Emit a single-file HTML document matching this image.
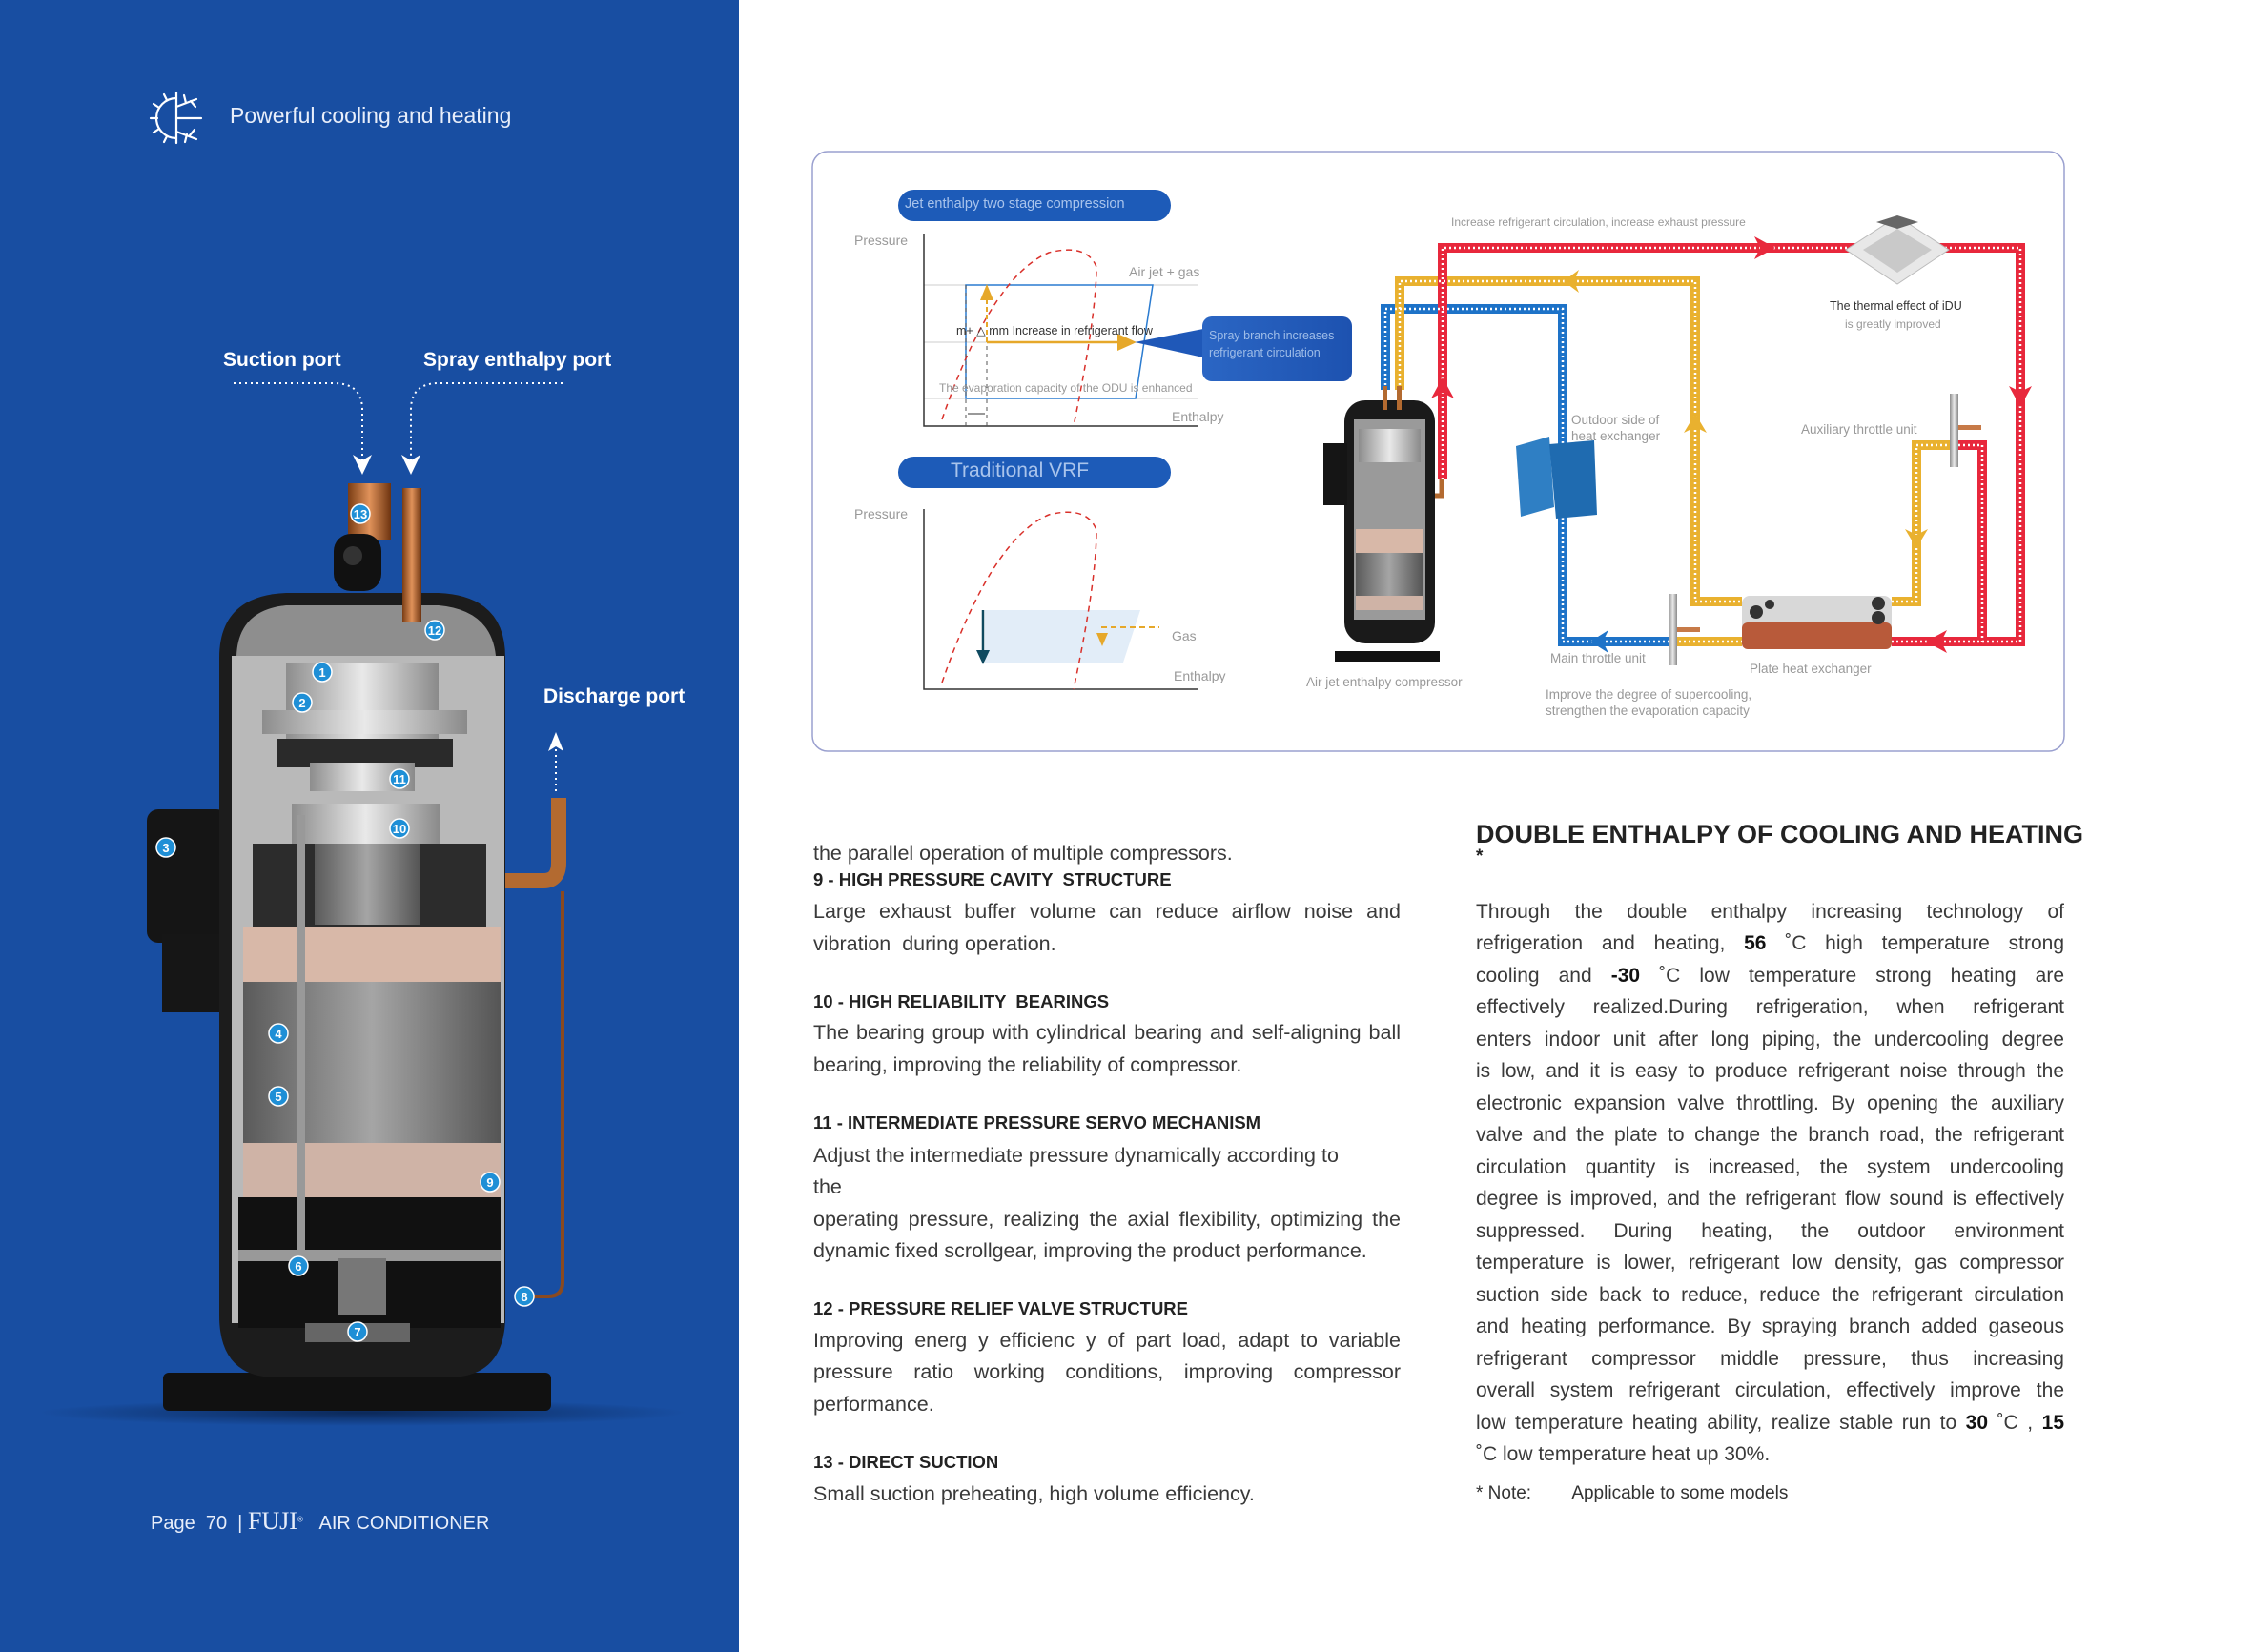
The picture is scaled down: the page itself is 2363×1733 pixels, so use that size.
<!DOCTYPE html>
<html><head><meta charset="utf-8">
<style>
html,body{margin:0;padding:0;}
body{width:2363px;height:1733px;position:relative;overflow:hidden;background:#fff;font-family:"Liberation Sans",sans-serif;}
.t{position:absolute;white-space:nowrap;}
.ln{position:absolute;left:853px;width:616px;height:34px;line-height:34px;font-size:21.5px;color:#3a3a3a;white-space:nowrap;text-align:justify;text-align-last:justify;}
.ln.l{text-align-last:left;}
.hd{position:absolute;left:853px;height:24px;line-height:24px;font-size:18.5px;font-weight:bold;color:#222;white-space:nowrap;}
.rn{position:absolute;left:1548px;width:617px;height:34px;line-height:34px;font-size:21px;color:#3a3a3a;white-space:nowrap;text-align:justify;text-align-last:justify;}
.rn.l{text-align-last:left;}
b{color:#111;}
.s{font-size:12px;color:#999;}
</style></head><body>

<svg width="2363" height="1733" style="position:absolute;left:0;top:0" xmlns="http://www.w3.org/2000/svg">
<defs>
<linearGradient id="cu" x1="0" x2="1"><stop offset="0" stop-color="#7a3d14"/><stop offset="0.5" stop-color="#e0925a"/><stop offset="1" stop-color="#6e3410"/></linearGradient>
<linearGradient id="sil" x1="0" x2="1"><stop offset="0" stop-color="#8d8d8d"/><stop offset="0.5" stop-color="#e9e9e9"/><stop offset="1" stop-color="#8a8a8a"/></linearGradient>
<linearGradient id="gr" x1="0" x2="1"><stop offset="0" stop-color="#5a5a5a"/><stop offset="0.5" stop-color="#a5a5a5"/><stop offset="1" stop-color="#555"/></linearGradient>
<radialGradient id="sh" cx="0.5" cy="0.5" r="0.5"><stop offset="0" stop-color="#0a2450" stop-opacity="0.9"/><stop offset="1" stop-color="#0a2450" stop-opacity="0"/></radialGradient>
<linearGradient id="call" x1="0" x2="1"><stop offset="0" stop-color="#2b66c4"/><stop offset="1" stop-color="#1d52b0"/></linearGradient>
</defs>
<rect x="0" y="0" width="775" height="1733" fill="#184ea2"/>
<g stroke="#fff" stroke-width="2.2" fill="none" stroke-linecap="round">
<path d="M185,103 A21,21 0 0 0 185,145"/>
<line x1="185" y1="97" x2="185" y2="150"/>
<line x1="185" y1="112" x2="206" y2="104"/><line x1="185" y1="138" x2="206" y2="146"/>
<line x1="185" y1="124" x2="211" y2="124"/>
<line x1="195" y1="108" x2="193" y2="100"/><line x1="200" y1="106" x2="205" y2="112"/>
<line x1="199" y1="142" x2="204" y2="136"/><line x1="196" y1="141" x2="194" y2="149"/>
<line x1="158" y1="124" x2="165" y2="124"/><line x1="161" y1="109" x2="167" y2="113"/><line x1="161" y1="139" x2="167" y2="135"/>
<line x1="172" y1="99" x2="175" y2="105"/><line x1="172" y1="149" x2="175" y2="143"/>
</g>
<g stroke="#fff" stroke-width="2" fill="none" stroke-dasharray="2 4">
<path d="M245,402 H350 Q380,402 380,430 V485"/>
<path d="M590,402 H460 Q431,402 431,430 V485"/>
<line x1="583" y1="830" x2="583" y2="785"/>
</g>
<g fill="#fff"><path d="M370,477 L380,498 L390,477 L380,483Z"/><path d="M421,477 L431,498 L441,477 L431,483Z"/><path d="M575,788 L583,768 L591,788 L583,783Z"/></g>
<ellipse cx="380" cy="1482" rx="340" ry="14" fill="url(#sh)"/>
<rect x="171" y="1440" width="407" height="40" rx="6" fill="#111"/>
<rect x="154" y="849" width="85" height="140" rx="12" fill="#151515"/>
<rect x="170" y="980" width="68" height="82" fill="#161616"/>
<path d="M230,690 Q230,625 300,622 L460,622 Q530,625 530,690 L530,1380 Q530,1445 470,1445 L290,1445 Q230,1445 230,1380Z" fill="#1c1c1c"/>
<path d="M248,688 Q250,640 300,635 L460,635 Q515,640 520,688 Z" fill="#8e8e8e"/>
<rect x="243" y="688" width="286" height="700" fill="#b9b9b9"/>
<rect x="300" y="695" width="160" height="90" fill="url(#sil)"/>
<rect x="275" y="745" width="215" height="25" fill="url(#sil)"/>
<rect x="290" y="775" width="185" height="30" fill="#2a2a2a"/>
<rect x="325" y="800" width="110" height="30" fill="url(#sil)"/>
<rect x="306" y="843" width="155" height="42" fill="url(#sil)"/>
<rect x="265" y="885" width="245" height="87" fill="#2c2c2c"/>
<rect x="330" y="885" width="110" height="85" fill="url(#gr)"/>
<rect x="255" y="972" width="270" height="58" fill="#d8b8a8"/>
<rect x="255" y="1030" width="270" height="169" fill="url(#gr)"/>
<rect x="255" y="1199" width="270" height="57" fill="#cfb3a6"/>
<rect x="250" y="1256" width="275" height="55" fill="#111"/>
<rect x="250" y="1311" width="275" height="12" fill="#999"/>
<rect x="250" y="1323" width="275" height="70" fill="#111"/>
<rect x="355" y="1320" width="50" height="60" fill="#777"/>
<rect x="320" y="1388" width="110" height="20" fill="#666"/>
<rect x="312" y="855" width="8" height="460" fill="#999"/>
<rect x="365" y="507" width="45" height="60" fill="url(#cu)"/>
<rect x="350" y="560" width="50" height="60" rx="18" fill="#111"/>
<circle cx="370" cy="583" r="10" fill="#333"/>
<rect x="422" y="512" width="20" height="140" fill="url(#cu)"/>
<path d="M530,924 H570 Q586,924 586,905 V837" stroke="#b36a30" stroke-width="16" fill="none"/>
<path d="M590,935 V1345 Q590,1360 575,1360 H545" stroke="#8a4a20" stroke-width="4" fill="none"/>
<g fill="#1f8fd6" stroke="#fff" stroke-width="1.5">
<circle cx="378" cy="539" r="10"/><circle cx="456" cy="661" r="10"/><circle cx="338" cy="705" r="10"/><circle cx="317" cy="737" r="10"/><circle cx="419" cy="817" r="10"/><circle cx="419" cy="869" r="10"/><circle cx="174" cy="889" r="10"/><circle cx="292" cy="1084" r="10"/><circle cx="292" cy="1150" r="10"/><circle cx="514" cy="1240" r="10"/><circle cx="313" cy="1328" r="10"/><circle cx="550" cy="1360" r="10"/><circle cx="375" cy="1397" r="10"/>
</g>
<g fill="#fff" font-family="Liberation Sans" font-size="13" font-weight="bold" text-anchor="middle">
<text x="378" y="544">13</text><text x="456" y="666">12</text><text x="338" y="710">1</text><text x="317" y="742">2</text><text x="419" y="822">11</text><text x="419" y="874">10</text><text x="174" y="894">3</text><text x="292" y="1089">4</text><text x="292" y="1155">5</text><text x="514" y="1245">9</text><text x="313" y="1333">6</text><text x="550" y="1365">8</text><text x="375" y="1402">7</text>
</g>

<rect x="852" y="159" width="1313" height="629" rx="16" fill="#fff" stroke="#9aa0cf" stroke-width="1.5"/>
<rect x="942" y="199" width="286" height="33" rx="16.5" fill="#1d5bb8"/>
<rect x="942" y="479" width="286" height="33" rx="16.5" fill="#1d5bb8"/>
<g stroke="#ccc" stroke-width="1"><line x1="969" y1="299" x2="1256" y2="299"/><line x1="969" y1="359" x2="1256" y2="359"/><line x1="969" y1="418" x2="1256" y2="418"/></g>
<path d="M969,245 V447 H1256" stroke="#333" stroke-width="1.5" fill="none"/>
<path d="M1013,299 H1209 L1191,418 H1013Z" fill="none" stroke="#2a7bd0" stroke-width="1.5"/>
<g stroke="#555" stroke-width="1" stroke-dasharray="4 4"><line x1="1013" y1="299" x2="1013" y2="447"/><line x1="1035" y1="299" x2="1035" y2="447"/></g>
<line x1="1015" y1="434" x2="1033" y2="434" stroke="#333"/>
<path d="M988,440 Q1040,290 1100,265 Q1140,255 1150,280 Q1150,330 1126,447" fill="none" stroke="#d9302a" stroke-width="1.5" stroke-dasharray="6 5"/>
<path d="M1035,359 H1180" stroke="#e6a82a" stroke-width="2.5"/>
<path d="M1035,359 V310" stroke="#e6a82a" stroke-width="2" stroke-dasharray="5 3"/>
<path d="M1172,350 L1192,359 L1172,368Z" fill="#e6a82a"/>
<path d="M1028,315 L1035,298 L1042,315Z" fill="#e6a82a"/>
<path d="M1190,359 L1262,345 L1262,375Z" fill="#1f58b8"/>
<rect x="1261" y="332" width="157" height="68" rx="10" fill="url(#call)"/>
<path d="M969,534 V723 H1256" stroke="#333" stroke-width="1.5" fill="none"/>
<path d="M1033,640 H1196 L1178,695 H1033Z" fill="#e2edf8"/>
<path d="M988,716 Q1040,565 1100,540 Q1140,530 1150,556 Q1150,610 1126,723" fill="none" stroke="#d9302a" stroke-width="1.5" stroke-dasharray="6 5"/>
<line x1="1031" y1="640" x2="1031" y2="685" stroke="#0f4a60" stroke-width="2.5"/>
<path d="M1024,682 L1031,697 L1038,682Z" fill="#0f4a60"/>
<line x1="1155" y1="658" x2="1216" y2="658" stroke="#e6a82a" stroke-width="2" stroke-dasharray="6 4"/>
<path d="M1150,664 L1156,678 L1162,664Z" fill="#e6a82a"/>

<g fill="none">
<path d="M1453,409 V324 H1639 V673 H1751" stroke="#1e73c8" stroke-width="10"/>
<path d="M1468,409 V295 H1778 V631 H1827 M1984,631 H2010 V467 H2049 M1751,673 H1827" stroke="#e9b12f" stroke-width="10"/>
<path d="M1513,503 V260 H2119 V673 H1984 M2049,467 H2079 V673" stroke="#e8283c" stroke-width="10"/>
<g stroke="#fff" stroke-width="2.5" stroke-dasharray="2 3">
<path d="M1453,409 V324 H1639 V673 H1751"/>
<path d="M1468,409 V295 H1778 V631 H1827 M1984,631 H2010 V467 H2049 M1751,673 H1827"/>
<path d="M1513,503 V260 H2119 V673 H1984 M2049,467 H2079 V673"/>
</g>
</g>
<path d="M1840,248 L1862,260 L1840,272 L1846,260Z" fill="#e8283c"/>
<path d="M2107,405 L2119,427 L2131,405 L2119,411Z" fill="#e8283c"/>
<path d="M2042,661 L2020,673 L2042,685 L2036,673Z" fill="#e8283c"/>
<path d="M1501,418 L1513,396 L1525,418 L1513,412Z" fill="#e8283c"/>
<path d="M1656,283 L1640,295 L1656,307 L1651,295Z" fill="#e9b12f"/>
<path d="M1766,454 L1778,434 L1790,454 L1778,448Z" fill="#e9b12f"/>
<path d="M1998,555 L2010,575 L2022,555 L2010,561Z" fill="#e9b12f"/>
<path d="M1687,661 L1668,673 L1687,685 L1681,673Z" fill="#1e73c8"/>
<path d="M1990,227 L2044,262 L1990,298 L1936,262Z" fill="#e8e8e8" stroke="#bbb"/>
<path d="M1990,240 L2026,262 L1990,286 L1954,262Z" fill="#c9c9c9"/>
<path d="M1968,233 L1990,226 L2012,233 L1990,240Z" fill="#666"/>
<path d="M1590,468 L1625,458 L1630,532 L1595,542Z" fill="#2f7fc4"/>
<path d="M1625,466 L1672,462 L1675,540 L1632,544Z" fill="#1f6bb0"/>
<rect x="2045" y="413" width="9" height="77" fill="url(#sil)"/>
<rect x="2054" y="446" width="24" height="5" fill="#c77a48"/>
<rect x="1750" y="623" width="9" height="75" fill="url(#sil)"/>
<rect x="1759" y="658" width="24" height="5" fill="#c77a48"/>
<rect x="1827" y="625" width="157" height="56" rx="8" fill="#d8d8d8"/>
<rect x="1827" y="653" width="157" height="28" rx="6" fill="#b85a3a"/>
<circle cx="1842" cy="642" r="7" fill="#333"/><circle cx="1970" cy="633" r="7" fill="#333"/><circle cx="1970" cy="648" r="7" fill="#333"/><circle cx="1856" cy="634" r="5" fill="#333"/>
<rect x="1410" y="420" width="95" height="255" rx="22" fill="#1a1a1a"/>
<rect x="1420" y="440" width="75" height="210" fill="#9a9a9a"/>
<rect x="1425" y="450" width="65" height="35" fill="url(#sil)"/>
<rect x="1422" y="555" width="70" height="25" fill="#d8b8a8"/>
<rect x="1422" y="580" width="70" height="45" fill="url(#gr)"/>
<rect x="1422" y="625" width="70" height="15" fill="#cfb3a6"/>
<rect x="1388" y="465" width="25" height="65" fill="#151515"/>
<rect x="1400" y="683" width="110" height="11" fill="#111"/>
<rect x="1450" y="405" width="5" height="25" fill="#b36a30"/><rect x="1465" y="405" width="5" height="25" fill="#b36a30"/>
<path d="M1505,520 H1512 V503" stroke="#b36a30" stroke-width="5" fill="none"/>
</svg>

<div class="t" style="left:241px;top:108px;font-size:23px;color:#e8eefa;">Powerful cooling and heating</div>
<div class="t" style="left:234px;top:366px;font-size:21px;font-weight:bold;color:#fff;">Suction port</div>
<div class="t" style="left:444px;top:366px;font-size:21px;font-weight:bold;color:#fff;">Spray enthalpy port</div>
<div class="t" style="left:570px;top:719px;font-size:21px;font-weight:bold;color:#fff;">Discharge port</div>
<div class="t" style="left:158px;top:1581px;font-size:20px;color:#e8eefa;">Page&nbsp; 70 &nbsp;| <span style="font-family:'Liberation Serif',serif;font-size:26px;">FUJI</span><sup style="font-size:8px">®</sup> &nbsp;&nbsp;AIR CONDITIONER</div>

<div class="t" style="left:949px;top:206px;font-size:14.5px;color:#a9c4ec;">Jet enthalpy two stage compression</div>
<div class="t" style="left:997px;top:482px;font-size:21px;color:#a9c4ec;">Traditional VRF</div>
<div class="t s" style="left:896px;top:244px;font-size:14px;">Pressure</div>
<div class="t s" style="left:896px;top:531px;font-size:14px;">Pressure</div>
<div class="t s" style="left:1184px;top:277px;font-size:14px;">Air jet + gas</div>
<div class="t" style="left:1003px;top:339px;font-size:12.5px;color:#333;">m+ △ mm Increase in refrigerant flow</div>
<div class="t" style="left:1268px;top:343px;font-size:12.5px;line-height:18px;color:#9fbde8;">Spray branch increases<br>refrigerant circulation</div>
<div class="t s" style="left:985px;top:400px;">The evaporation capacity of the ODU is enhanced</div>
<div class="t s" style="left:1229px;top:429px;font-size:14px;">Enthalpy</div>
<div class="t s" style="left:1229px;top:659px;font-size:14px;">Gas</div>
<div class="t s" style="left:1231px;top:701px;font-size:14px;">Enthalpy</div>
<div class="t s" style="left:1370px;top:708px;font-size:13.5px;">Air jet enthalpy compressor</div>
<div class="t s" style="left:1522px;top:226px;">Increase refrigerant circulation, increase exhaust pressure</div>
<div class="t" style="left:1919px;top:314px;font-size:12.5px;color:#333;">The thermal effect of iDU</div>
<div class="t s" style="left:1935px;top:333px;">is greatly improved</div>
<div class="t s" style="left:1648px;top:432px;font-size:13.5px;line-height:17px;">Outdoor side of<br>heat exchanger</div>
<div class="t s" style="left:1889px;top:443px;font-size:13.5px;">Auxiliary throttle unit</div>
<div class="t s" style="left:1626px;top:683px;font-size:13.5px;">Main throttle unit</div>
<div class="t s" style="left:1835px;top:694px;font-size:13.5px;">Plate heat exchanger</div>
<div class="t s" style="left:1621px;top:720px;font-size:13.5px;line-height:17px;">Improve the degree of supercooling,<br>strengthen the evaporation capacity</div>

<div class="ln l" style="top:878px">the parallel operation of multiple compressors.</div>
<div class="hd" style="top:911px">9 - HIGH PRESSURE CAVITY &nbsp;STRUCTURE</div>
<div class="ln" style="top:939px">Large exhaust buffer volume can reduce airflow noise and</div>
<div class="ln l" style="top:973px">vibration &nbsp;during operation.</div>
<div class="hd" style="top:1039px">10 - HIGH RELIABILITY &nbsp;BEARINGS</div>
<div class="ln" style="top:1066px">The bearing group with cylindrical bearing and self-aligning ball</div>
<div class="ln l" style="top:1100px">bearing, improving the reliability of compressor.</div>
<div class="hd" style="top:1166px">11 - INTERMEDIATE PRESSURE SERVO MECHANISM</div>
<div class="ln l" style="top:1195px">Adjust the intermediate pressure dynamically according to</div>
<div class="ln l" style="top:1228px">the</div>
<div class="ln" style="top:1262px">operating pressure, realizing the axial flexibility, optimizing the</div>
<div class="ln l" style="top:1295px">dynamic fixed scrollgear, improving the product performance.</div>
<div class="hd" style="top:1361px">12 - PRESSURE RELIEF VALVE STRUCTURE</div>
<div class="ln" style="top:1389px">Improving energ y efficienc y of part load, adapt to variable</div>
<div class="ln" style="top:1422px">pressure ratio working conditions, improving compressor</div>
<div class="ln l" style="top:1456px">performance.</div>
<div class="hd" style="top:1522px">13 - DIRECT SUCTION</div>
<div class="ln l" style="top:1550px">Small suction preheating, high volume efficiency.</div>

<div class="t" style="left:1548px;top:860px;font-size:27px;font-weight:bold;color:#222;">DOUBLE ENTHALPY OF COOLING AND HEATING</div>
<div class="t" style="left:1548px;top:888px;font-size:19px;font-weight:bold;color:#222;">*</div>
<div class="rn" style="top:940px">Through the double enthalpy increasing technology of</div>
<div class="rn" style="top:973px">refrigeration and heating, <b>56</b> ˚C high temperature strong</div>
<div class="rn" style="top:1007px">cooling and <b>-30</b> ˚C low temperature strong heating are</div>
<div class="rn" style="top:1040px">effectively realized.During refrigeration, when refrigerant</div>
<div class="rn" style="top:1074px">enters indoor unit after long piping, the undercooling degree</div>
<div class="rn" style="top:1107px">is low, and it is easy to produce refrigerant noise through the</div>
<div class="rn" style="top:1141px">electronic expansion valve throttling. By opening the auxiliary</div>
<div class="rn" style="top:1174px">valve and the plate to change the branch road, the refrigerant</div>
<div class="rn" style="top:1208px">circulation quantity is increased, the system undercooling</div>
<div class="rn" style="top:1241px">degree is improved, and the refrigerant flow sound is effectively</div>
<div class="rn" style="top:1275px">suppressed. During heating, the outdoor environment</div>
<div class="rn" style="top:1308px">temperature is lower, refrigerant low density, gas compressor</div>
<div class="rn" style="top:1342px">suction side back to reduce, reduce the refrigerant circulation</div>
<div class="rn" style="top:1375px">and heating performance. By spraying branch added gaseous</div>
<div class="rn" style="top:1409px">refrigerant compressor middle pressure, thus increasing</div>
<div class="rn" style="top:1442px">overall system refrigerant circulation, effectively improve the</div>
<div class="rn" style="top:1476px">low temperature heating ability, realize stable run to <b>30</b> ˚C , <b>15</b></div>
<div class="rn l" style="top:1509px">˚C low temperature heat up 30%.</div>
<div class="t" style="left:1548px;top:1556px;font-size:19px;color:#333;">* Note: &nbsp;&nbsp;&nbsp;&nbsp;&nbsp;&nbsp;&nbsp;Applicable to some models</div>
</body></html>
